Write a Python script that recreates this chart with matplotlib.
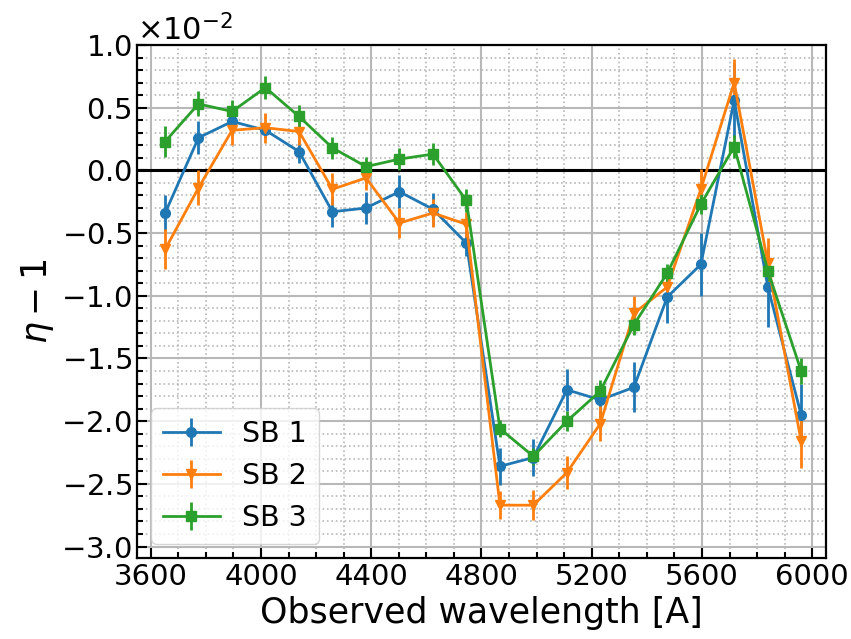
import numpy as np
import matplotlib
matplotlib.use("Agg")
import matplotlib.pyplot as plt
from matplotlib.ticker import MultipleLocator

# wavelengths of the sub-band points [A]
wavelength = [3652, 3773, 3895, 4016, 4138, 4259, 4381, 4502, 4624, 4745,
              4867, 4988, 5110, 5231, 5353, 5474, 5596, 5717, 5839, 5960]

# eta - 1, in units of 1e-2
sb1 = [-0.34, 0.26, 0.39, 0.32, 0.15, -0.33, -0.30, -0.17, -0.31, -0.58,
       -2.36, -2.29, -1.75, -1.83, -1.73, -1.01, -0.75, 0.56, -0.93, -1.95]
sb1_err = [0.14, 0.13, 0.06, 0.06, 0.09, 0.12, 0.13, 0.13, 0.13, 0.10,
           0.15, 0.15, 0.17, 0.14, 0.20, 0.21, 0.25, 0.30, 0.32, 0.25]

sb2 = [-0.63, -0.14, 0.32, 0.34, 0.31, -0.15, -0.06, -0.42, -0.34, -0.43,
       -2.67, -2.67, -2.41, -2.02, -1.14, -0.93, -0.15, 0.70, -0.74, -2.16]
sb2_err = [0.16, 0.14, 0.12, 0.12, 0.11, 0.13, 0.10, 0.12, 0.11, 0.10,
           0.11, 0.12, 0.13, 0.14, 0.14, 0.10, 0.16, 0.19, 0.20, 0.21]

sb3 = [0.23, 0.53, 0.47, 0.66, 0.43, 0.18, 0.03, 0.09, 0.13, -0.24,
       -2.06, -2.28, -2.00, -1.76, -1.23, -0.82, -0.27, 0.19, -0.80, -1.60]
sb3_err = [0.12, 0.10, 0.09, 0.09, 0.09, 0.09, 0.08, 0.09, 0.09, 0.09,
           0.07, 0.07, 0.08, 0.09, 0.08, 0.07, 0.08, 0.09, 0.08, 0.10]

labels = ["SB 1", "SB 2", "SB 3"]
markers = ["o", "v", "s"]
colors = ["#1f77b4", "#ff7f0e", "#2ca02c"]

fig = plt.figure(figsize=(8.51, 6.39), dpi=100)
ax = fig.add_axes([0.161, 0.127, 0.8096, 0.8026])

ax.axhline(0, color="black", lw=2.2, zorder=1.5)

for y, e, lab, m, c in zip([sb1, sb2, sb3], [sb1_err, sb2_err, sb3_err], labels, markers, colors):
    ax.errorbar(wavelength, np.array(y) * 1e-2, yerr=np.array(e) * 1e-2,
                marker=m, color=c, label=lab, ms=7, lw=2, elinewidth=2, capsize=0, zorder=3)

ax.set_xlim(3550, 6050)
ax.set_ylim(-3.09e-2, 1.0e-2)
ax.xaxis.set_major_locator(MultipleLocator(400))
ax.xaxis.set_minor_locator(MultipleLocator(100))
ax.yaxis.set_major_locator(MultipleLocator(0.5e-2))
ax.yaxis.set_minor_locator(MultipleLocator(0.1e-2))
ax.ticklabel_format(axis="y", style="sci", scilimits=(0, 0), useMathText=True)
ax.yaxis.get_offset_text().set_fontsize(22)

ax.tick_params(which="both", direction="in", labelsize=21, width=1.5)
ax.tick_params(which="major", length=7)
ax.tick_params(which="minor", length=4)

ax.grid(which="major", color="#b8b8b8", lw=1.5)
ax.grid(which="minor", color="#b8b8b8", lw=1.2, ls=":")
ax.set_axisbelow(True)

for s in ax.spines.values():
    s.set_linewidth(1.6)

ax.set_xlabel("Observed wavelength [A]", fontsize=25)
ax.set_ylabel(r"$\eta - 1$", fontsize=25)
ax.legend(loc="lower left", fontsize=20.5)

fig.savefig("out.png", dpi=100)
